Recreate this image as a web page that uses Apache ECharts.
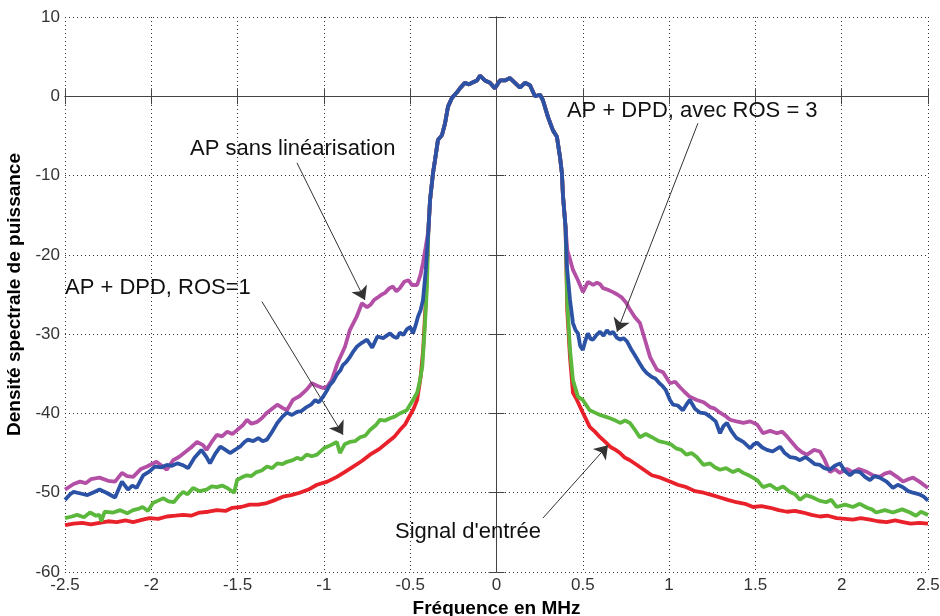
<!DOCTYPE html>
<html>
<head>
<meta charset="utf-8">
<script src="https://cdn.jsdelivr.net/npm/echarts@6/dist/echarts.min.js"></script>
<style>html,body{margin:0;padding:0;background:#fff;}#c{width:940px;height:616px;}</style>
</head>
<body>
<div id="c"></div>
<script>
// x ticks / y ticks
const xTicks = [-2.5, -2, -1.5, -1, -0.5, 0, 0.5, 1, 1.5, 2, 2.5];
const yTicks = [-60, -50, -40, -30, -20, -10, 0, 10];

// shared main band (all four curves coincide here) [MHz, dB]
const coreBand = [[-0.395,-17],[-0.385,-13.1],[-0.368,-9.7],[-0.356,-8.0],[-0.339,-5.5],[-0.316,-4.9],[-0.298,-3.4],[-0.281,-1.3],[-0.258,-0.2],[-0.229,0.5],[-0.212,1.0],[-0.183,1.7],[-0.16,1.5],[-0.142,1.7],[-0.113,2.0],[-0.096,2.6],[-0.067,2.0],[-0.038,1.7],[-0.009,1.0],[0.020,2.0],[0.049,2.0],[0.078,2.3],[0.107,1.7],[0.136,1.1],[0.165,1.7],[0.194,1.4],[0.223,0.0],[0.252,0.2],[0.269,-0.5],[0.298,-2.6],[0.327,-4.3],[0.350,-5.1],[0.368,-7.7],[0.379,-9.7],[0.385,-12.5],[0.40,-16.5]];

// Signal d'entrée (red)
const inputLeft = [[-2.5,-54.1],[-2.45,-53.9],[-2.4,-53.8],[-2.35,-54.0],[-2.3,-53.8],[-2.25,-53.6],[-2.2,-53.7],[-2.15,-53.5],[-2.105,-53.7],[-2.05,-53.4],[-2.01,-53.2],[-1.96,-53.3],[-1.91,-53.0],[-1.86,-52.9],[-1.815,-52.8],[-1.77,-52.9],[-1.72,-52.5],[-1.67,-52.4],[-1.62,-52.2],[-1.57,-52.3],[-1.53,-51.9],[-1.48,-51.8],[-1.43,-51.5],[-1.38,-51.5],[-1.33,-51.3],[-1.28,-50.9],[-1.237,-50.5],[-1.19,-50.3],[-1.14,-50.0],[-1.09,-49.6],[-1.04,-49.0],[-0.98,-48.6],[-0.925,-48.0],[-0.88,-47.4],[-0.83,-46.7],[-0.78,-46.0],[-0.733,-45.2],[-0.68,-44.5],[-0.635,-43.7],[-0.59,-42.9],[-0.56,-42.1],[-0.53,-41.4],[-0.5,-40.2],[-0.48,-39.4],[-0.46,-38.3],[-0.44,-35.5],[-0.425,-32],[-0.41,-26]];
const inputRight = [[0.41,-27],[0.426,-33],[0.443,-37.4],[0.466,-38.3],[0.5,-39.9],[0.54,-41.7],[0.57,-42.3],[0.6,-43.0],[0.63,-43.6],[0.658,-44.2],[0.69,-44.6],[0.716,-45.0],[0.745,-45.6],[0.773,-45.9],[0.814,-46.5],[0.86,-47.2],[0.9,-47.8],[0.95,-48.1],[1.005,-48.6],[1.05,-49.0],[1.1,-49.3],[1.15,-49.8],[1.2,-50.0],[1.25,-50.3],[1.295,-50.6],[1.34,-50.9],[1.39,-51.2],[1.44,-51.4],[1.486,-51.8],[1.535,-51.7],[1.585,-51.9],[1.635,-52.2],[1.683,-52.4],[1.73,-52.3],[1.776,-52.5],[1.825,-52.8],[1.874,-53.0],[1.92,-52.9],[1.97,-53.2],[2.02,-53.3],[2.065,-53.4],[2.11,-53.2],[2.164,-53.4],[2.21,-53.6],[2.26,-53.7],[2.31,-53.5],[2.355,-53.7],[2.4,-53.9],[2.45,-53.8],[2.5,-53.9]];

// AP + DPD, ROS=1 (green)
const ros1Left = [[-2.5,-53.2],[-2.46,-53.0],[-2.43,-52.8],[-2.39,-53.1],[-2.355,-52.5],[-2.32,-52.9],[-2.3,-52.8],[-2.29,-53.6],[-2.27,-52.4],[-2.26,-52.2],[-2.22,-52.5],[-2.18,-52.2],[-2.14,-52.6],[-2.105,-52.2],[-2.07,-52.0],[-2.05,-51.8],[-2.02,-52.3],[-1.99,-51.3],[-1.96,-51.0],[-1.93,-50.7],[-1.9,-51.1],[-1.87,-51.2],[-1.84,-50.4],[-1.815,-49.9],[-1.79,-50.2],[-1.758,-49.4],[-1.72,-49.8],[-1.68,-49.6],[-1.65,-49.2],[-1.62,-49.3],[-1.59,-49.1],[-1.56,-49.4],[-1.52,-50.0],[-1.503,-48.4],[-1.47,-48.0],[-1.446,-47.8],[-1.42,-47.9],[-1.39,-47.4],[-1.36,-47.2],[-1.33,-46.7],[-1.3,-46.9],[-1.27,-46.3],[-1.24,-46.4],[-1.214,-46.1],[-1.18,-45.9],[-1.156,-45.6],[-1.13,-45.8],[-1.1,-45.2],[-1.07,-45.4],[-1.04,-45.2],[-1.0,-44.4],[-0.96,-44.0],[-0.925,-43.6],[-0.907,-45.0],[-0.88,-43.9],[-0.85,-43.6],[-0.82,-43.5],[-0.79,-43.0],[-0.76,-42.8],[-0.733,-42.1],[-0.70,-41.5],[-0.675,-40.8],[-0.645,-40.9],[-0.617,-40.6],[-0.59,-40.4],[-0.56,-40.0],[-0.52,-39.6],[-0.484,-38.3],[-0.46,-37.4],[-0.445,-36.0],[-0.43,-34.1],[-0.415,-29],[-0.403,-24]];
const ros1Right = [[0.41,-26],[0.426,-32],[0.443,-35.8],[0.472,-37.9],[0.5,-38.3],[0.54,-39.6],[0.57,-39.9],[0.6,-40.2],[0.63,-40.4],[0.658,-40.6],[0.69,-40.9],[0.716,-41.2],[0.745,-40.9],[0.773,-41.2],[0.80,-42.0],[0.83,-43.0],[0.865,-42.6],[0.9,-43.0],[0.94,-43.5],[0.98,-43.7],[1.01,-43.9],[1.04,-44.4],[1.07,-44.6],[1.1,-45.2],[1.13,-45.0],[1.16,-45.5],[1.2,-46.5],[1.237,-46.3],[1.265,-46.8],[1.295,-47.1],[1.33,-46.9],[1.37,-47.4],[1.40,-47.1],[1.43,-47.5],[1.47,-47.9],[1.51,-48.4],[1.544,-49.3],[1.585,-49.0],[1.625,-49.6],[1.66,-49.2],[1.7,-49.9],[1.73,-50.2],[1.758,-50.9],[1.795,-50.3],[1.833,-50.6],[1.87,-51.0],[1.91,-51.2],[1.94,-50.9],[1.97,-51.8],[2.02,-51.5],[2.065,-51.8],[2.105,-51.4],[2.147,-51.9],[2.175,-52.1],[2.2,-52.5],[2.25,-52.2],[2.297,-52.5],[2.35,-52.1],[2.396,-52.5],[2.43,-52.9],[2.46,-52.4],[2.5,-52.8]];

// AP sans linéarisation (magenta)
const paLeft = [[-2.5,-49.6],[-2.45,-48.9],[-2.413,-48.6],[-2.38,-48.8],[-2.35,-48.3],[-2.3,-48.1],[-2.25,-48.5],[-2.21,-48.6],[-2.17,-47.5],[-2.14,-47.9],[-2.105,-48.0],[-2.06,-47.0],[-2.025,-46.7],[-1.97,-46.1],[-1.94,-46.6],[-1.91,-47.1],[-1.874,-45.9],[-1.84,-45.5],[-1.805,-44.9],[-1.77,-44.3],[-1.735,-43.6],[-1.70,-44.0],[-1.68,-44.6],[-1.65,-43.6],[-1.62,-42.7],[-1.59,-42.9],[-1.56,-42.3],[-1.53,-42.6],[-1.503,-42.1],[-1.47,-41.5],[-1.446,-40.8],[-1.42,-41.3],[-1.39,-41.1],[-1.36,-40.6],[-1.33,-39.9],[-1.30,-39.4],[-1.27,-38.9],[-1.24,-39.3],[-1.214,-39.6],[-1.18,-38.3],[-1.14,-37.8],[-1.10,-37.0],[-1.07,-36.2],[-1.04,-36.5],[-1.005,-36.8],[-0.98,-36.6],[-0.955,-35.8],[-0.92,-33.6],[-0.878,-31.6],[-0.85,-29.5],[-0.81,-27.8],[-0.78,-26.1],[-0.75,-26.6],[-0.73,-26.3],[-0.71,-25.7],[-0.69,-25.4],[-0.665,-25.0],[-0.646,-24.8],[-0.62,-24.2],[-0.6,-24.0],[-0.58,-24.6],[-0.56,-24.2],[-0.535,-23.4],[-0.51,-23.2],[-0.49,-23.8],[-0.46,-23.8],[-0.44,-22.5],[-0.426,-21],[-0.41,-19]];
const paRight = [[0.41,-19.4],[0.425,-20.5],[0.443,-21.9],[0.472,-23.2],[0.501,-24.7],[0.53,-23.4],[0.56,-23.8],[0.582,-23.5],[0.6,-23.7],[0.617,-24.2],[0.645,-24.4],[0.675,-24.7],[0.70,-25.0],[0.727,-25.4],[0.75,-26.0],[0.773,-26.9],[0.80,-27.8],[0.831,-28.6],[0.86,-30.7],[0.89,-32.9],[0.93,-34.5],[0.965,-34.8],[1.005,-36.2],[1.035,-36.0],[1.063,-36.7],[1.09,-37.3],[1.12,-37.9],[1.16,-38.3],[1.2,-38.6],[1.237,-39.2],[1.265,-39.4],[1.295,-39.9],[1.325,-40.3],[1.353,-40.8],[1.39,-41.0],[1.43,-41.2],[1.47,-41.0],[1.51,-41.4],[1.544,-42.5],[1.585,-42.2],[1.625,-42.5],[1.655,-42.3],[1.683,-42.9],[1.71,-43.6],[1.741,-44.4],[1.77,-44.9],[1.8,-45.2],[1.84,-44.6],[1.874,-44.8],[1.90,-45.8],[1.932,-47.4],[1.96,-47.0],[1.99,-47.5],[2.03,-47.0],[2.065,-47.4],[2.10,-47.0],[2.147,-47.4],[2.18,-47.8],[2.22,-48.0],[2.25,-47.6],[2.28,-47.4],[2.32,-48.0],[2.355,-48.6],[2.385,-48.3],[2.413,-48.1],[2.45,-48.6],[2.494,-49.3],[2.5,-49.4]];

// AP + DPD, avec ROS = 3 (blue)
const ros3Left = [[-2.5,-50.9],[-2.47,-50.2],[-2.45,-49.9],[-2.41,-50.1],[-2.37,-50.3],[-2.33,-49.9],[-2.3,-49.6],[-2.26,-50.0],[-2.21,-50.6],[-2.17,-48.6],[-2.135,-49.6],[-2.11,-49.1],[-2.085,-49.4],[-2.047,-47.8],[-2.01,-47.3],[-1.98,-46.7],[-1.94,-46.8],[-1.91,-46.5],[-1.88,-46.6],[-1.85,-46.3],[-1.82,-46.5],[-1.787,-46.9],[-1.75,-45.6],[-1.71,-44.6],[-1.68,-45.5],[-1.66,-46.3],[-1.63,-45.1],[-1.6,-44.2],[-1.57,-44.6],[-1.544,-45.0],[-1.515,-44.6],[-1.486,-44.2],[-1.46,-43.6],[-1.44,-43.3],[-1.41,-43.5],[-1.38,-43.1],[-1.355,-43.5],[-1.33,-43.3],[-1.30,-42.3],[-1.27,-41.2],[-1.24,-40.4],[-1.214,-39.9],[-1.185,-40.2],[-1.156,-39.8],[-1.13,-39.7],[-1.1,-39.2],[-1.075,-38.9],[-1.05,-38.3],[-1.03,-38.6],[-1.005,-37.9],[-0.985,-37.2],[-0.965,-36.4],[-0.945,-35.9],[-0.925,-35.1],[-0.905,-34.6],[-0.89,-33.9],[-0.87,-33.5],[-0.85,-32.9],[-0.83,-32.2],[-0.81,-31.6],[-0.78,-31.1],[-0.75,-30.7],[-0.72,-31.7],[-0.69,-30.3],[-0.657,-30.5],[-0.617,-29.9],[-0.597,-30.3],[-0.577,-30.5],[-0.56,-29.8],[-0.54,-30.1],[-0.52,-29.4],[-0.5,-29.1],[-0.484,-29.9],[-0.47,-29.0],[-0.455,-27.8],[-0.44,-27.0],[-0.426,-25.7],[-0.41,-22]];
const ros3Right = [[0.408,-21.5],[0.426,-25.7],[0.443,-28.6],[0.458,-29.5],[0.472,-29.9],[0.485,-31.5],[0.5,-32.0],[0.515,-30.8],[0.53,-29.9],[0.545,-30.6],[0.559,-30.7],[0.58,-30.1],[0.6,-29.7],[0.62,-30.2],[0.64,-29.5],[0.658,-30.0],[0.675,-29.7],[0.695,-30.4],[0.716,-30.7],[0.736,-30.5],[0.756,-30.9],[0.78,-31.9],[0.8,-32.6],[0.83,-33.7],[0.85,-34.4],[0.87,-34.9],[0.9,-35.4],[0.92,-35.6],[0.944,-36.2],[0.96,-36.5],[0.98,-37.0],[1.005,-38.3],[1.023,-38.9],[1.05,-39.0],[1.08,-39.6],[1.1,-38.9],[1.12,-38.3],[1.15,-39.4],[1.18,-39.9],[1.21,-40.0],[1.237,-40.4],[1.27,-41.0],[1.295,-42.5],[1.315,-41.6],[1.335,-41.2],[1.36,-42.2],[1.39,-43.1],[1.43,-43.6],[1.47,-44.4],[1.49,-43.9],[1.51,-43.7],[1.54,-44.3],[1.567,-44.6],[1.60,-44.8],[1.643,-44.2],[1.67,-45.0],[1.7,-45.5],[1.73,-45.6],[1.758,-45.9],[1.79,-45.5],[1.816,-45.9],[1.845,-46.4],[1.874,-46.5],[1.9,-46.9],[1.932,-47.1],[1.96,-46.6],[1.99,-46.3],[2.02,-47.3],[2.048,-47.8],[2.075,-47.3],[2.106,-47.4],[2.135,-48.0],[2.164,-48.4],[2.19,-47.9],[2.22,-48.1],[2.26,-48.6],[2.297,-49.4],[2.325,-49.0],[2.355,-49.3],[2.385,-49.8],[2.413,-50.0],[2.45,-50.2],[2.475,-50.5],[2.5,-51.0]];

// annotations: text, label anchor (left-middle) and arrow start/end in data units
const annoText  = ['AP sans linéarisation', 'AP + DPD, ROS=1', 'AP + DPD, avec ROS = 3', "Signal d'entrée"];
const annoLabel = [[-1.776,-6.65],[-2.5,-24.2],[0.408,-1.85],[-0.588,-54.9]];
const annoFrom  = [[-1.156,-8.4],[-1.359,-25.9],[1.167,-3.4],[0.269,-53.2]];
const annoTo    = [[-0.762,-25.7],[-0.889,-42.7],[0.698,-29.7],[0.646,-44.0]];

const seriesNames = ["Signal d'entrée", 'AP + DPD, ROS=1', 'AP sans linéarisation', 'AP + DPD, avec ROS = 3'];
const seriesColors = ['#e8212b', '#5cb83c', '#b44fa6', '#2b52a5'];
const seriesData = [
  inputLeft.concat(coreBand, inputRight),
  ros1Left.concat(coreBand, ros1Right),
  paLeft.concat(coreBand, paRight),
  ros3Left.concat(coreBand, ros3Right)
];

const FONT = 'Liberation Sans, Arial, Helvetica, sans-serif';
const chart = echarts.init(document.getElementById('c'), null, {renderer: 'canvas'});

const series = seriesData.map((d, i) => ({
  name: seriesNames[i],
  type: 'line',
  data: d,
  showSymbol: false,
  symbol: 'none',
  smooth: false,
  lineStyle: {color: seriesColors[i], width: 3.8},
  itemStyle: {color: seriesColors[i]},
  z: 2 + i,
  silent: true
}));

// annotation series
series.push({
  type: 'line',
  data: [],
  silent: true,
  z: 10,
  markLine: {
    silent: true,
    symbol: ['none', 'arrow'],
    symbolSize: 13,
    label: {show: false},
    lineStyle: {color: '#333', width: 1, type: 'solid'},
    itemStyle: {color: '#000'},
    emphasis: {disabled: true},
    data: annoFrom.map((f, i) => [{coord: f}, {coord: annoTo[i]}])
  },
  markPoint: {
    silent: true,
    symbol: 'circle',
    symbolSize: 0,
    itemStyle: {color: 'rgba(0,0,0,0)'},
    label: {show: true, position: 'right', distance: 0, fontSize: 22, fontFamily: FONT, color: '#111'},
    data: annoLabel.map((p, i) => ({coord: p, label: {formatter: annoText[i]}}))
  }
});

chart.setOption({
  animation: false,
  backgroundColor: '#fff',
  grid: {left: 65, right: 12, top: 17, bottom: 44, containLabel: false, outerBoundsMode: 'none'},
  xAxis: [{
    type: 'value', min: xTicks[0], max: xTicks[xTicks.length - 1], interval: 0.5,
    position: 'bottom',
    name: 'Fréquence en MHz', nameLocation: 'middle', nameGap: 24,
    nameTextStyle: {fontSize: 19, fontWeight: 'bold', fontFamily: FONT, color: '#000'},
    axisLine: {show: true, lineStyle: {color: '#444', width: 1}},
    axisTick: {show: true, inside: true, length: 8, lineStyle: {color: '#444'}},
    axisLabel: {fontSize: 17, fontFamily: FONT, color: '#333', margin: 5},
    splitLine: {show: true, lineStyle: {color: '#333', type: [1, 3], width: 1}}
  }, {
    type: 'value', min: xTicks[0], max: xTicks[xTicks.length - 1], interval: 0.5,
    position: 'top',
    axisLine: {show: true, lineStyle: {color: '#444', width: 1}},
    axisTick: {show: true, inside: true, length: 8, lineStyle: {color: '#444'}},
    axisLabel: {show: false},
    splitLine: {show: false}
  }],
  yAxis: [{
    type: 'value', min: yTicks[0], max: yTicks[yTicks.length - 1], interval: 10,
    position: 'left',
    name: 'Densité spectrale de puissance', nameLocation: 'middle', nameGap: 35,
    nameTextStyle: {fontSize: 19, fontWeight: 'bold', fontFamily: FONT, color: '#000'},
    axisLine: {show: true, lineStyle: {color: '#444', width: 1}},
    axisTick: {show: true, inside: true, length: 8, lineStyle: {color: '#444'}},
    axisLabel: {fontSize: 17, fontFamily: FONT, color: '#333', margin: 5},
    splitLine: {show: true, lineStyle: {color: '#333', type: [1, 3], width: 1}}
  }, {
    type: 'value', min: yTicks[0], max: yTicks[yTicks.length - 1], interval: 10,
    position: 'right',
    axisLine: {show: true, lineStyle: {color: '#444', width: 1}},
    axisTick: {show: true, inside: true, length: 8, lineStyle: {color: '#444'}},
    axisLabel: {show: false},
    splitLine: {show: false}
  }],
  series: series
});
</script>
</body>
</html>
